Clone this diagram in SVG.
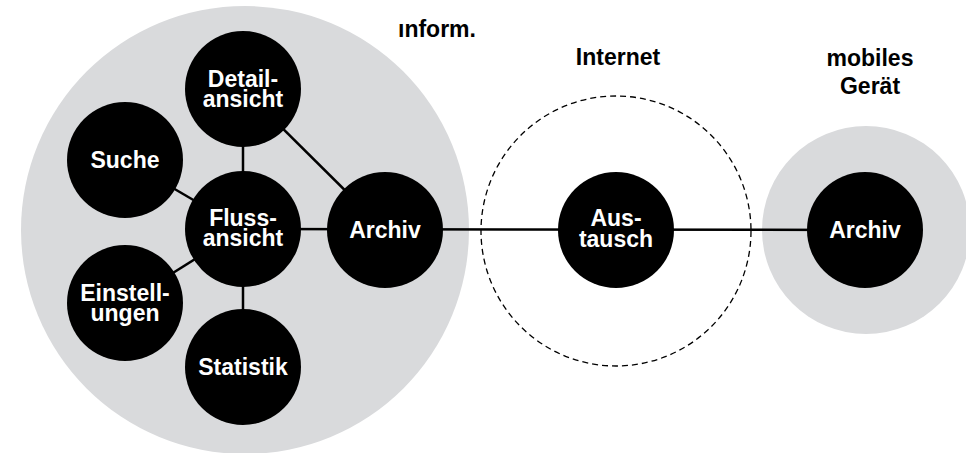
<svg xmlns="http://www.w3.org/2000/svg" width="966" height="453" viewBox="0 0 966 453">
  <style>
    .zone { fill: #d9dadc; }
    .node { fill: #000; }
    .lbl { font-family: "Liberation Sans", Arial, sans-serif; font-weight: bold; font-size: 23px; text-anchor: middle; fill: #fff; }
    .title { font-family: "Liberation Sans", Arial, sans-serif; font-weight: bold; font-size: 23px; text-anchor: middle; fill: #000; }
    .edge { stroke: #000; stroke-width: 2.5; fill: none; }
  </style>

  <!-- areas -->
  <g id="area-app">
    <circle class="zone" cx="245" cy="230" r="224"/>
  </g>
  <g id="area-internet">
    <circle cx="616" cy="231" r="135" fill="none" stroke="#000" stroke-width="1.3" stroke-dasharray="6 4"/>
  </g>
  <g id="area-mobile">
    <circle class="zone" cx="866" cy="230" r="104"/>
  </g>

  <!-- area titles -->
  <text class="title" x="437" y="37">ınform.</text>
  <text class="title" x="618" y="65">Internet</text>
  <text class="title" x="870" y="66"><tspan x="870">mobiles</tspan><tspan x="870" dy="28">Gerät</tspan></text>

  <!-- connectors -->
  <g id="connectors">
    <line class="edge" x1="243" y1="89" x2="243" y2="229"/>
    <line class="edge" x1="243" y1="229" x2="243" y2="367"/>
    <line class="edge" x1="125" y1="160" x2="243" y2="229"/>
    <line class="edge" x1="125" y1="303" x2="243" y2="229"/>
    <line class="edge" x1="243" y1="89" x2="385" y2="230"/>
    <line class="edge" x1="243" y1="229" x2="865" y2="230"/>
  </g>

  <!-- nodes -->
  <g id="detailansicht">
    <circle class="node" cx="243" cy="89" r="58"/>
    <text class="lbl" x="243" y="87"><tspan x="243">Detail-</tspan><tspan x="243" dy="20">ansicht</tspan></text>
  </g>
  <g id="suche">
    <circle class="node" cx="125" cy="160" r="58"/>
    <text class="lbl" x="125" y="168">Suche</text>
  </g>
  <g id="flussansicht">
    <circle class="node" cx="243" cy="229" r="58"/>
    <text class="lbl" x="243" y="226"><tspan x="243">Fluss-</tspan><tspan x="243" dy="20">ansicht</tspan></text>
  </g>
  <g id="archiv">
    <circle class="node" cx="385" cy="230" r="58"/>
    <text class="lbl" x="385" y="238">Archiv</text>
  </g>
  <g id="einstellungen">
    <circle class="node" cx="125" cy="303" r="58"/>
    <text class="lbl" x="125" y="301"><tspan x="125">Einstell-</tspan><tspan x="125" dy="20">ungen</tspan></text>
  </g>
  <g id="statistik">
    <circle class="node" cx="243" cy="367" r="58"/>
    <text class="lbl" x="243" y="375">Statistik</text>
  </g>
  <g id="austausch">
    <circle class="node" cx="616" cy="230" r="58"/>
    <text class="lbl" x="616" y="226"><tspan x="616">Aus-</tspan><tspan x="616" dy="21">tausch</tspan></text>
  </g>
  <g id="archiv-mobil">
    <circle class="node" cx="865" cy="230" r="58"/>
    <text class="lbl" x="865" y="238">Archiv</text>
  </g>
</svg>
